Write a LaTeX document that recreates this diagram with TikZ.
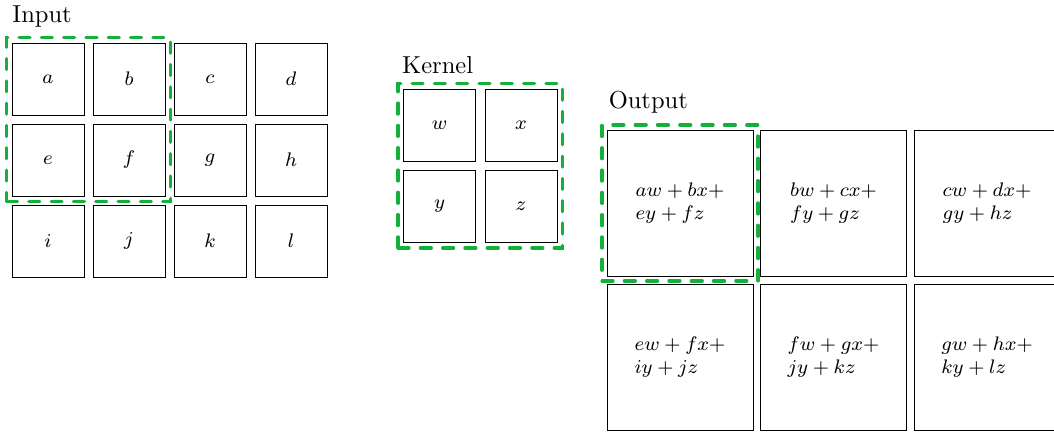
\documentclass[tikz,border=0pt]{standalone}
\usetikzlibrary{fit}
\definecolor{selgreen}{RGB}{20,176,60}
\begin{document}
\begin{tikzpicture}[x=0.408pt,y=-0.408pt,
  cell/.style={draw=black, line width=0.4pt, minimum width=72*0.408pt, minimum height=72*0.408pt, inner sep=0pt, font=\footnotesize, anchor=center},
  bigcell/.style={draw=black, line width=0.4pt, minimum width=146*0.408pt, minimum height=146*0.408pt, inner sep=0pt, font=\footnotesize, align=left, anchor=center},
  sel/.style={draw=selgreen, line width=1.3pt, dash pattern=on 4.5pt off 4.6pt, line cap=round, inner sep=5*0.408pt, fill=none},
  title/.style={anchor=base west, inner sep=0pt}]
\useasboundingbox (0,0) rectangle (1054,432);
\clip (0,0) rectangle (1054,432);
% Input
\node[title] (tin) at (12,22.7) {Input};
\node[cell] (a) at (48,79) {$a$};
\node[cell] (b) at (129,79) {$b$};
\node[cell] (c) at (210,79) {$c$};
\node[cell] (d) at (291,79) {$d$};
\node[cell] (e) at (48,160) {$e$};
\node[cell] (f) at (129,160) {$f$};
\node[cell] (g) at (210,160) {$g$};
\node[cell] (h) at (291,160) {$h$};
\node[cell] (i) at (48,241) {$i$};
\node[cell] (j) at (129,241) {$j$};
\node[cell] (k) at (210,241) {$k$};
\node[cell] (l) at (291,241) {$l$};
\node[sel, fit=(a)(f)] (selin) {};
% Kernel
\node[title] (tker) at (401.7,73.3) {Kernel};
\node[cell] (w) at (439.5,125) {$w$};
\node[cell] (x) at (521,125) {$x$};
\node[cell] (y) at (439.5,206.5) {$y$};
\node[cell] (z) at (521,206.5) {$z$};
\node[sel, fit=(w)(z)] (selker) {};
% Output
\node[title] (tout) at (608.3,108.3) {Output};
\node[bigcell] (o1) at (680,203) {$aw+bx+$\\$ey+fz$};
\node[bigcell] (o2) at (833.5,203) {$bw+cx+$\\$fy+gz$};
\node[bigcell] (o3) at (987,203) {$cw+dx+$\\$gy+hz$};
\node[bigcell] (o4) at (680,357) {$ew+fx+$\\$iy+jz$};
\node[bigcell] (o5) at (833.5,357) {$fw+gx+$\\$jy+kz$};
\node[bigcell] (o6) at (987,357) {$gw+hx+$\\$ky+lz$};
\node[sel, fit=(o1), inner sep=4.5*0.408pt] (selout) {};
\end{tikzpicture}
\end{document}
